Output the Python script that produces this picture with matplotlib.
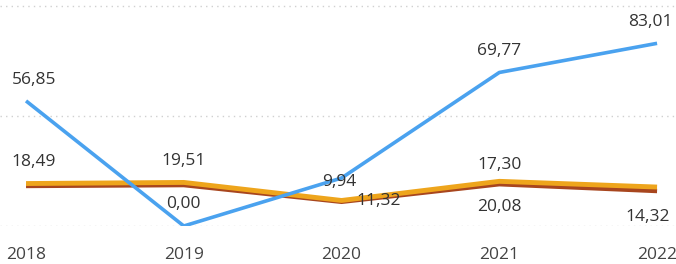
import matplotlib
matplotlib.use("Agg")
import matplotlib.pyplot as plt

plt.rcParams['font.family'] = ['Open Sans', 'DejaVu Sans']

years = ["2018", "2019", "2020", "2021", "2022"]

# line values
blue_vals = [56.85, 0.00, 21.8, 69.77, 83.01]
orange_vals = [19.3, 19.8, 11.6, 20.3, 17.7]
red_vals = [18.2, 18.6, 11.0, 19.0, 15.9]

# data labels as shown
blue_labels = ["56,85", "0,00", "9,94", "69,77", "83,01"]
orange_labels = ["18,49", "19,51", "11,32", "17,30", None]
red_labels = [None, None, None, "20,08", "14,32"]

# label offsets in pixels (dx, dy)
blue_off = [(8, 21), (0, 22), (-2, -4), (0, 21), (-7, 21)]
orange_off = [(8, 22), (0, 21), (37, -1), (0, 16), None]
red_off = [None, None, None, (0, -23), (-9, -26)]

BLUE = "#4aa2ef"
ORANGE = "#eea51c"
RED = "#a8461e"
TXT = "#333333"

fig = plt.figure(figsize=(6.76, 2.64), dpi=100)
ax = fig.add_axes([0, 38 / 264, 1, 226 / 264])

x = list(range(len(years)))
ax.plot(x, red_vals, color=RED, lw=3.2, solid_capstyle="butt", zorder=3)
ax.plot(x, orange_vals, color=ORANGE, lw=3.5, solid_capstyle="butt", zorder=4)
ax.plot(x, blue_vals, color=BLUE, lw=2.6, solid_capstyle="butt", zorder=5)

def put_labels(vals, labels, offs):
    for i, (v, lab, off) in enumerate(zip(vals, labels, offs)):
        if lab is None:
            continue
        ax.annotate(lab, xy=(i, v), xytext=off, textcoords="offset pixels",
                    ha="center", va="center", fontsize=12.5, color=TXT, zorder=6)

put_labels(blue_vals, blue_labels, blue_off)
put_labels(orange_vals, orange_labels, orange_off)
put_labels(red_vals, red_labels, red_off)

ax.set_xlim(-0.165, 4.12)
ax.set_ylim(0, 102.7)
ax.set_yticks([0, 50, 100])
ax.yaxis.grid(True, linestyle=(0, (1, 3)), color="#d0d0d0", lw=1.0)
ax.set_yticklabels([])
ax.tick_params(axis="y", length=0)
ax.set_xticks(x)
ax.set_xticklabels(years, fontsize=12.5, color="#444444")
ax.tick_params(axis="x", length=0, pad=15)
for s in ax.spines.values():
    s.set_visible(False)

fig.savefig("out.png", dpi=100)
